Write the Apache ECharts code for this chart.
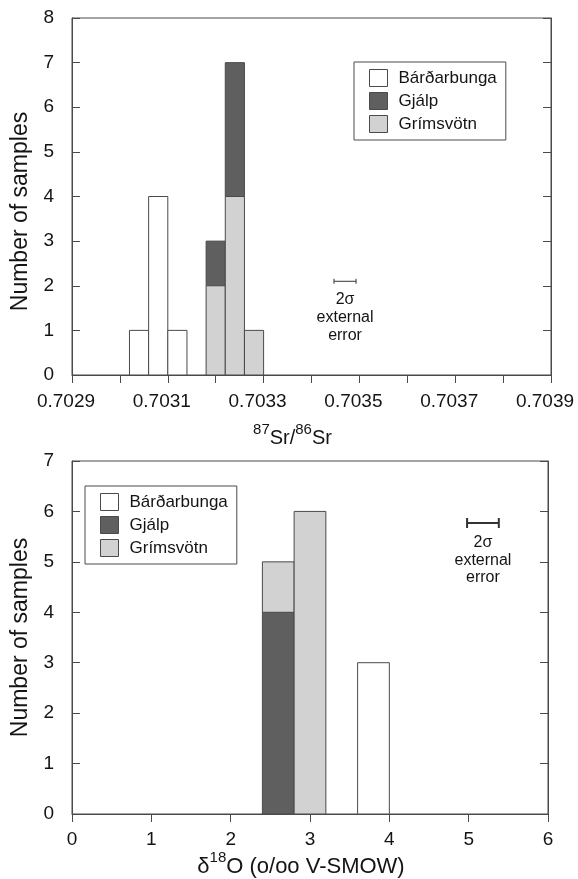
<!DOCTYPE html>
<html>
<head>
<meta charset="utf-8">
<script src="https://cdn.jsdelivr.net/npm/echarts@6.0.0/dist/echarts.min.js"></script>
<style>
  html, body { margin: 0; padding: 0; background: #fff; }
  #main { width: 578px; height: 879px; }
</style>
</head>
<body>
<div id="main"></div>
<script>
var chart = echarts.init(document.getElementById('main'));

// 87Sr/86Sr histogram (bin starts, bin width 0.00004)
var srBinStart = [0.70302, 0.70306, 0.70310, 0.70318, 0.70322, 0.70326];
var srBinWidth = 0.00004;
var srBardarbunga = [1, 4, 1, 0, 0, 0];
var srGjalp = [0, 0, 0, 1, 3, 0];
var srGrimsvotn = [0, 0, 0, 2, 4, 1];
var srError = [0.70347, 2.1, 0.000023]; // centre, y, half width

// d18O histogram (bin width 0.4)
var oBinStart = [2.4, 2.8, 3.6];
var oBinWidth = 0.4;
var oBardarbunga = [0, 0, 3];
var oGjalp = [4, 0, 0];
var oGrimsvotn = [1, 6, 0];
var oError = [5.18, 5.77, 0.2];

var FONT = "'Liberation Sans', Arial, Helvetica, sans-serif";
var INK = '#141414';
var LINE = '#4a4a4a';
var colors = { 'Bárðarbunga': '#ffffff', 'Gjálp': '#5f5f5f', 'Grímsvötn': '#d2d2d2' };

// stacks the layers (bottom first) and returns [x0, x1, base, top] per layer
function buildStack(starts, width, layers) {
	var base = starts.map(function() { return 0; });
	var out = {};
	layers.forEach(function(l) {
		var d = [];
		for (var i = 0; i < starts.length; i++) {
			if (l.counts[i] > 0) {
				d.push([starts[i], starts[i] + width, base[i], base[i] + l.counts[i]]);
				base[i] += l.counts[i];
			}
		}
		out[l.name] = d;
	});
	return out;
}

var srStack = buildStack(srBinStart, srBinWidth, [
	{ name: 'Bárðarbunga', counts: srBardarbunga },
	{ name: 'Grímsvötn', counts: srGrimsvotn },
	{ name: 'Gjálp', counts: srGjalp }
]);
var oStack = buildStack(oBinStart, oBinWidth, [
	{ name: 'Bárðarbunga', counts: oBardarbunga },
	{ name: 'Gjálp', counts: oGjalp },
	{ name: 'Grímsvötn', counts: oGrimsvotn }
]);

function makeRender(fill) {
	return function(params, api) {
		var p0 = api.coord([api.value(0), api.value(3)]);
		var p1 = api.coord([api.value(1), api.value(2)]);
		return {
			type: 'rect',
			shape: { x: p0[0], y: p0[1], width: p1[0] - p0[0], height: p1[1] - p0[1] },
			style: { fill: fill, stroke: LINE, lineWidth: 1 }
		};
	};
}

function makeErrRender(capH, lw, gap, lh) {
	return function(params, api) {
		var c = api.coord([api.value(0), api.value(1)]);
		var h = api.size([api.value(2), 0])[0];
		var st = { stroke: '#333', lineWidth: lw };
		return {
			type: 'group',
			children: [
				{ type: 'line', shape: { x1: c[0] - h, y1: c[1], x2: c[0] + h, y2: c[1] }, style: st },
				{ type: 'line', shape: { x1: c[0] - h, y1: c[1] - capH, x2: c[0] - h, y2: c[1] + capH }, style: st },
				{ type: 'line', shape: { x1: c[0] + h, y1: c[1] - capH, x2: c[0] + h, y2: c[1] + capH }, style: st },
				{
					type: 'text', x: c[0], y: c[1] + gap,
					style: {
						text: '2σ\nexternal\nerror', align: 'center', verticalAlign: 'top',
						fontSize: 16, fontFamily: FONT, lineHeight: lh, fill: INK
					}
				}
			]
		};
	};
}

function histSeries(stack, idx) {
	return ['Bárðarbunga', 'Gjálp', 'Grímsvötn'].map(function(name) {
		return {
			type: 'custom',
			name: name,
			xAxisIndex: idx,
			yAxisIndex: idx * 2,
			renderItem: makeRender(colors[name]),
			itemStyle: { color: colors[name], borderColor: LINE, borderWidth: 1 },
			encode: { x: [0, 1], y: [2, 3] },
			data: stack[name]
		};
	});
}

function legendOf(left, top) {
	return {
		left: left,
		top: top,
		orient: 'vertical',
		icon: 'rect',
		itemWidth: 18,
		itemHeight: 17,
		itemGap: 5,
		padding: [7, 9, 7, 15],
		borderColor: LINE,
		borderWidth: 1,
		selectedMode: false,
		textStyle: { fontSize: 17, fontFamily: FONT, color: INK, padding: [0, 0, 0, 6] },
		data: ['Bárðarbunga', 'Gjálp', 'Grímsvötn'].map(function(n) {
			return { name: n, itemStyle: { color: colors[n], borderColor: LINE, borderWidth: 1 } };
		})
	};
}

var supRich = {
	m: { fontSize: 20, fontFamily: FONT, color: INK, lineHeight: 26, verticalAlign: 'bottom' },
	s: { fontSize: 15, fontFamily: FONT, color: INK, lineHeight: 15, verticalAlign: 'top' }
};

function yAxes(grid, max) {
	var common = {
		type: 'value', gridIndex: grid, min: 0, max: max, interval: 1,
		axisLine: { show: true, lineStyle: { color: LINE, width: 1 } },
		axisTick: { show: true, inside: true, length: 8, lineStyle: { color: LINE } },
		splitLine: { show: false }
	};
	var left = Object.assign({}, common, {
		position: 'left',
		name: 'Number of samples',
		nameLocation: 'middle',
		nameGap: 38,
		nameRotate: 90,
		nameTextStyle: { fontSize: 23, fontFamily: FONT, color: INK, padding: grid === 0 ? [0, 30, 0, 0] : 0 },
		axisLabel: { margin: 18, fontSize: 19, fontFamily: FONT, color: INK }
	});
	var right = Object.assign({}, common, { position: 'right', axisLabel: { show: false } });
	return [left, right];
}

var option = {
	backgroundColor: '#fff',
	animation: false,
	textStyle: { fontFamily: FONT },
	grid: [
		{ left: 72, right: 27, top: 18, height: 357, show: true, borderColor: LINE, borderWidth: 1 },
		{ left: 72, right: 30, top: 461, height: 354, show: true, borderColor: LINE, borderWidth: 1 }
	],
	legend: [legendOf(354, 62), legendOf(85, 486)],
	xAxis: [{
		type: 'value', gridIndex: 0, min: 0.7029, max: 0.7039, interval: 0.0002,
		name: '{s|87}{m|Sr/}{s|86}{m|Sr}',
		nameLocation: 'middle', nameGap: 47,
		nameTextStyle: { rich: supRich, padding: [0, 38, 0, 0] },
		axisLine: { lineStyle: { color: LINE } },
		axisTick: { length: 8, lineStyle: { color: LINE } },
		minorTick: { show: true, splitNumber: 2, length: 8, lineStyle: { color: LINE } },
		splitLine: { show: false },
		axisLabel: {
			margin: 17, fontSize: 19, fontFamily: FONT, color: INK, padding: [0, 12, 0, 0],
			formatter: function(v) { return v.toFixed(4); }
		}
	}, {
		type: 'value', gridIndex: 1, min: 0, max: 6, interval: 1,
		name: '{m|δ}{s|18}{m|O (o/oo V-SMOW)}',
		nameLocation: 'middle', nameGap: 36,
		nameTextStyle: { rich: {
			m: { fontSize: 22, fontFamily: FONT, color: INK, lineHeight: 28, verticalAlign: 'bottom' },
			s: { fontSize: 15, fontFamily: FONT, color: INK, lineHeight: 15, verticalAlign: 'top' }
		}, padding: [0, 18, 0, 0] },
		axisLine: { lineStyle: { color: LINE } },
		axisTick: { length: 8, lineStyle: { color: LINE } },
		splitLine: { show: false },
		axisLabel: { margin: 16, fontSize: 19, fontFamily: FONT, color: INK }
	}],
	yAxis: yAxes(0, 8).concat(yAxes(1, 7)),
	series: histSeries(srStack, 0).concat(histSeries(oStack, 1)).concat([{
		type: 'custom', name: 'srErr', xAxisIndex: 0, yAxisIndex: 0,
		renderItem: makeErrRender(2.5, 1, 9, 18), data: [srError], silent: true
	}, {
		type: 'custom', name: 'oErr', xAxisIndex: 1, yAxisIndex: 2,
		renderItem: makeErrRender(5, 2, 11, 17.5), data: [oError], silent: true
	}])
};
chart.setOption(option);
</script>
</body>
</html>
